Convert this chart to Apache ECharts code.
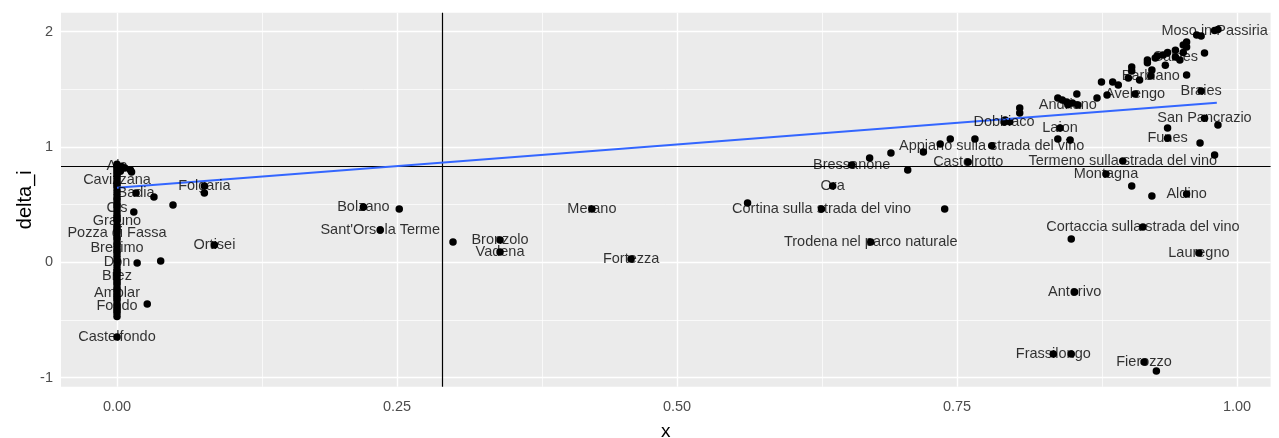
<!DOCTYPE html>
<html>
<head>
<meta charset="utf-8">
<script src="https://cdn.jsdelivr.net/npm/echarts@6/dist/echarts.min.js"></script>
<style>
  html, body { margin: 0; padding: 0; background: #ffffff; }
  #chart { width: 1279px; height: 438px; }
</style>
</head>
<body>
<div id="chart"></div>
<script>
// Municipalities that carry a text label
const labelNames = [
  'Moso in Passiria', 'Caines', 'Barbiano', 'Avelengo', 'Braies', 'Andriano',
  'Dobbiaco', 'Laion', 'San Pancrazio', 'Funes', 'Appiano sulla strada del vino',
  'Castelrotto', 'Termeno sulla strada del vino', 'Bressanone', 'Montagna', 'Ora',
  'Aldino', 'Cortina sulla strada del vino', 'Cortaccia sulla strada del vino',
  'Trodena nel parco naturale', 'Lauregno', 'Anterivo', 'Frassilongo', 'Fierozzo',
  'Merano', 'Fortezza', 'Bronzolo', 'Vadena', "Sant'Orsola Terme", 'Bolzano',
  'Folgaria', 'Ortisei', 'Ala', 'Cavizzana', 'Badia', 'Cis', 'Grauno',
  'Pozza di Fassa', 'Bresimo', 'Don', 'Brez', 'Amblar', 'Fondo', 'Castelfondo'
];
const labelX = [
  0.980, 0.945, 0.923, 0.909, 0.968, 0.849,
  0.792, 0.842, 0.971, 0.938, 0.781,
  0.760, 0.898, 0.656, 0.883, 0.639,
  0.955, 0.629, 0.916,
  0.673, 0.966, 0.855, 0.836, 0.917,
  0.424, 0.459, 0.342, 0.342, 0.235, 0.220,
  0.078, 0.087, 0.000, 0.000, 0.017, 0.000, 0.000,
  0.000, 0.000, 0.000, 0.000, 0.000, 0.000, 0.000
];
const labelY = [
  2.010, 1.780, 1.615, 1.459, 1.486, 1.366,
  1.216, 1.165, 1.250, 1.077, 1.010,
  0.870, 0.879, 0.844, 0.766, 0.662,
  0.592, 0.462, 0.306,
  0.176, 0.081, -0.258, -0.796, -0.864,
  0.462, 0.029, 0.193, 0.089, 0.280, 0.480,
  0.662, 0.150, 0.835, 0.714, 0.601, 0.471, 0.358,
  0.254, 0.124, 0.003, -0.119, -0.266, -0.379, -0.648
];

// Municipalities drawn without a label
const otherX = [
  // upper right group
  0.983, 0.964, 0.968, 0.955, 0.955, 0.952, 0.952, 0.945, 0.938, 0.934,
  0.929, 0.920, 0.920, 0.927, 0.971, 0.949, 0.936, 0.906, 0.906, 0.924,
  0.903, 0.913, 0.955, 0.879, 0.889, 0.894, 0.884, 0.875, 0.857, 0.840,
  0.844, 0.848, 0.853, 0.858, 0.806, 0.806, 0.793, 0.797, 0.840, 0.851,
  0.938, 0.983, 0.967, 0.980,
  // middle band
  0.766, 0.744, 0.735, 0.720, 0.691, 0.672, 0.706, 0.906, 0.924, 0.739,
  0.563, 0.852, 0.852, 0.928, 0.252, 0.300,
  // near zero
  0.004, 0.007, 0.012, 0.013, 0.003, 0.033, 0.050, 0.078, 0.015, 0.018,
  0.039, 0.027,
  0, 0, 0, 0, 0, 0, 0, 0, 0, 0,
  0, 0, 0, 0, 0, 0, 0, 0, 0, 0,
  0, 0, 0, 0, 0, 0, 0, 0, 0, 0,
  0, 0, 0, 0, 0, 0, 0, 0, 0, 0,
  0, 0, 0, 0, 0, 0, 0
];
const otherY = [
  2.020, 1.972, 1.963, 1.910, 1.867, 1.885, 1.820, 1.840, 1.820, 1.798,
  1.790, 1.754, 1.730, 1.772, 1.815, 1.754, 1.710, 1.694, 1.660, 1.668,
  1.598, 1.581, 1.625, 1.563, 1.563, 1.538, 1.451, 1.425, 1.460, 1.425,
  1.408, 1.390, 1.382, 1.364, 1.338, 1.295, 1.235, 1.218, 1.069, 1.061,
  1.165, 1.190, 1.035, 0.930,
  1.069, 1.069, 1.026, 0.957, 0.948, 0.905, 0.800, 0.662, 0.575, 0.462,
  0.514, 0.202, -0.796, -0.943, 0.462, 0.176,
  0.830, 0.818, 0.800, 0.783, 0.790, 0.566, 0.497, 0.600, 0.436, -0.006,
  0.011, -0.362,
  0.85, 0.82, 0.80, 0.78, 0.76, 0.74, 0.69, 0.67, 0.65, 0.62,
  0.59, 0.56, 0.54, 0.51, 0.49, 0.44, 0.41, 0.39, 0.37, 0.32,
  0.30, 0.28, 0.22, 0.20, 0.17, 0.15, 0.10, 0.08, 0.05, 0.02,
  -0.03, -0.06, -0.08, -0.10, -0.15, -0.17, -0.19, -0.22, -0.24, -0.29,
  -0.31, -0.33, -0.36, -0.40, -0.42, -0.44, -0.47
];

// Axis ticks and gridlines
const xTicks = [0, 0.25, 0.5, 0.75, 1];
const xMinor = [0.125, 0.375, 0.625, 0.875];
const yTicks = [-1, 0, 1, 2];
const yMinor = [-0.5, 0.5, 1.5];

// Reference lines and the fitted linear trend
const refX = 0.2866;
const refY = 0.826;
const fitX = [0, 0.982];
const fitY = [0.647, 1.384];

const FONT = 'Liberation Sans, Arial, sans-serif';

const points = labelX.map((x, i) => [x, labelY[i]])
  .concat(otherX.map((x, i) => [x, otherY[i]]));
const labelled = labelNames.map((n, i) => ({ name: n, value: [labelX[i], labelY[i]] }));
const fit = fitX.map((x, i) => [x, fitY[i]]);

const gridLines = []
  .concat(xTicks.map(v => ({ xAxis: v, lineStyle: { width: 1.4 } })))
  .concat(xMinor.map(v => ({ xAxis: v, lineStyle: { width: 0.7 } })))
  .concat(yTicks.map(v => ({ yAxis: v, lineStyle: { width: 1.4 } })))
  .concat(yMinor.map(v => ({ yAxis: v, lineStyle: { width: 0.7 } })));

const chart = echarts.init(document.getElementById('chart'), null, { renderer: 'canvas' });
chart.setOption({
  animation: false,
  backgroundColor: '#ffffff',
  textStyle: { fontFamily: FONT },
  grid: {
    left: 61, right: 8.4, top: 12.7, bottom: 51.2,
    outerBoundsMode: 'none', containLabel: false,
    show: true, backgroundColor: '#EBEBEB', borderWidth: 0
  },
  xAxis: {
    type: 'value',
    min: -0.05, max: 1.03,
    name: 'x', nameLocation: 'middle', nameGap: 35, nameMoveOverlap: false,
    nameTextStyle: { color: '#000', fontSize: 19, fontFamily: FONT },
    axisLine: { show: false },
    axisTick: { show: true, length: 4, lineStyle: { color: '#333333', width: 1 }, customValues: xTicks },
    axisLabel: {
      color: '#4D4D4D', fontSize: 14.5, fontFamily: FONT, margin: 13,
      customValues: xTicks, formatter: v => v.toFixed(2)
    },
    splitLine: { show: false }
  },
  yAxis: {
    type: 'value',
    min: -1.08, max: 2.165,
    name: 'delta_i', nameLocation: 'middle', nameGap: 26, nameRotate: 90, nameMoveOverlap: false,
    nameTextStyle: { color: '#000', fontSize: 20, fontFamily: FONT },
    axisLine: { show: false },
    axisTick: { show: true, length: 4, lineStyle: { color: '#333333', width: 1 }, customValues: yTicks },
    axisLabel: {
      color: '#4D4D4D', fontSize: 14.5, fontFamily: FONT, margin: 8,
      customValues: yTicks, formatter: v => String(v)
    },
    splitLine: { show: false }
  },
  series: [
    {
      // panel gridlines
      type: 'line', data: [], z: 1, silent: true,
      markLine: {
        z: 1, silent: true, symbol: 'none', animation: false,
        label: { show: false },
        lineStyle: { color: '#ffffff', type: 'solid' },
        emphasis: { disabled: true },
        data: gridLines
      }
    },
    {
      // reference lines
      type: 'line', data: [], z: 2, silent: true,
      markLine: {
        z: 2, silent: true, symbol: 'none', animation: false,
        label: { show: false },
        lineStyle: { color: '#000000', type: 'solid', width: 1.2 },
        emphasis: { disabled: true },
        data: [{ xAxis: refX }, { yAxis: refY }]
      }
    },
    {
      type: 'scatter', z: 3, silent: true,
      symbol: 'circle', symbolSize: 7.5,
      itemStyle: { color: '#000000', opacity: 1 },
      data: points
    },
    {
      type: 'line', z: 4, silent: true,
      showSymbol: false, symbol: 'none',
      lineStyle: { color: '#3366FF', width: 2 },
      data: fit
    },
    {
      type: 'scatter', z: 5, silent: true,
      symbolSize: 1,
      itemStyle: { color: 'rgba(0,0,0,0)' },
      label: {
        show: true, position: 'inside', formatter: '{b}',
        color: '#000000', fontSize: 14.5, fontFamily: FONT
      },
      data: labelled
    }
  ]
});
</script>
</body>
</html>
